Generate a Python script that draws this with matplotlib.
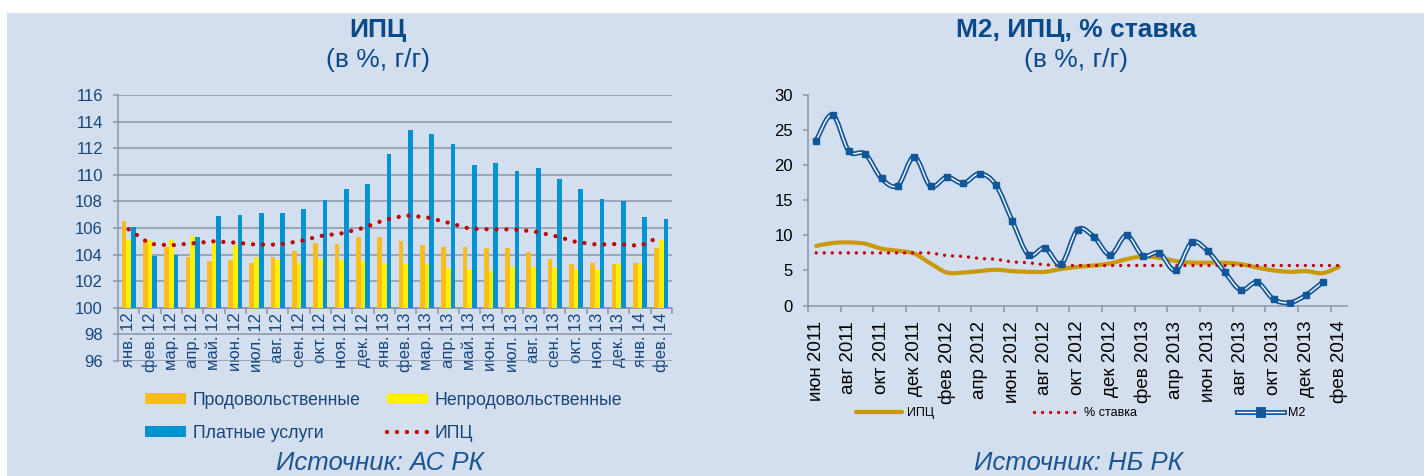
import numpy as np
import matplotlib
matplotlib.use("Agg")
import matplotlib.pyplot as plt
from matplotlib.path import Path
from matplotlib.patches import PathPatch, Rectangle, Patch
from matplotlib.lines import Line2D
import matplotlib.patheffects as pe

plt.rcParams['font.family'] = ['Liberation Sans', 'DejaVu Sans']

# ---------------- data: left chart ----------------
left_cats = ['янв. 12', 'фев. 12', 'мар. 12', 'апр. 12', 'май. 12', 'июн. 12', 'июл. 12',
             'авг. 12', 'сен. 12', 'окт. 12', 'ноя. 12', 'дек. 12', 'янв. 13', 'фев. 13',
             'мар. 13', 'апр. 13', 'май. 13', 'июн. 13', 'июл. 13', 'авг. 13', 'сен. 13',
             'окт. 13', 'ноя. 13', 'дек. 13', 'янв. 14', 'фев. 14']
food = [106.5, 105.0, 104.6, 103.8, 103.5, 103.6, 103.4, 103.8, 104.3, 104.9, 104.8, 105.3, 105.3,
        105.0, 104.7, 104.6, 104.6, 104.5, 104.5, 104.2, 103.7, 103.3, 103.4, 103.3, 103.4, 104.5]
nonfood = [105.1, 105.1, 105.1, 105.4, 105.0, 104.7, 103.8, 103.6, 103.4, 103.7, 103.6, 103.5, 103.4,
           103.3, 103.3, 103.0, 102.9, 102.8, 103.1, 103.1, 103.1, 102.9, 102.9, 103.3, 103.4, 105.1]
services = [106.1, 103.9, 104.0, 105.3, 106.9, 107.0, 107.1, 107.1, 107.4, 108.1, 108.9, 109.3, 111.6,
            113.4, 113.1, 112.3, 110.7, 110.9, 110.3, 110.5, 109.7, 108.9, 108.2, 108.0, 106.8, 106.7]
cpi_left = [105.9, 104.8, 104.7, 104.85, 105.0, 104.9, 104.75, 104.75, 105.0, 105.4, 105.6, 106.0, 106.6,
            106.95, 106.8, 106.4, 105.95, 105.9, 105.9, 105.75, 105.4, 104.95, 104.75, 104.8, 104.65, 105.4]
left_yticks = [96, 98, 100, 102, 104, 106, 108, 110, 112, 114, 116]

# ---------------- data: right chart ----------------
right_labels = ['июн 2011', 'авг 2011', 'окт 2011', 'дек 2011', 'фев 2012', 'апр 2012', 'июн 2012',
                'авг 2012', 'окт 2012', 'дек 2012', 'фев 2013', 'апр 2013', 'июн 2013', 'авг 2013',
                'окт 2013', 'дек 2013', 'фев 2014']
n_months = 33  # июн 2011 .. фев 2014
cpi_right = [8.5, 8.9, 9.0, 8.8, 8.1, 7.8, 7.4, 6.0, 4.7, 4.7, 4.9, 5.1, 4.9, 4.8, 4.8, 5.2, 5.5,
             5.7, 6.0, 6.6, 7.0, 6.8, 6.35, 6.1, 6.1, 6.1, 5.9, 5.4, 5.0, 4.8, 4.9, 4.6, 5.5]
rate = [7.5, 7.5, 7.5, 7.5, 7.5, 7.5, 7.5, 7.5, 7.1, 7.0, 6.7, 6.6, 6.2, 6.1, 5.8, 5.7, 5.7,
        5.7, 5.7, 5.7, 5.7, 5.7, 5.7, 5.7, 5.7, 5.7, 5.7, 5.7, 5.7, 5.7, 5.7, 5.7, 5.7]
m2 = [23.5, 27.2, 22.0, 21.6, 18.1, 17.1, 21.2, 17.0, 18.3, 17.4, 18.8, 17.2, 12.1, 7.2, 8.2, 5.9,
      10.8, 9.8, 7.2, 10.0, 7.1, 7.5, 5.0, 9.0, 7.7, 4.8, 2.2, 3.3, 0.9, 0.4, 1.5, 3.3]
right_yticks = [0, 5, 10, 15, 20, 25, 30]

# ---------------- styles ----------------
BG = '#D3DEEE'
GRID = '#8C96A8'
DARK = '#17467C'
TITLE_C = '#0B4A8A'
SRC_C = '#1B5594'
C_FOOD = '#F7BC1E'
C_NONFOOD = '#FFF000'
C_SERV = '#0093D4'
C_RED = '#C00000'
C_GOLD = '#C99A06'
C_M2 = '#12569A'

W, H = 1424, 476
fig = plt.figure(figsize=(W / 100, H / 100), dpi=100)
fig.patch.set_facecolor('white')
fig.add_artist(Rectangle((7 / W, 0), 1 - 7 / W, 1 - 13 / H, transform=fig.transFigure,
                         facecolor=BG, edgecolor='none', zorder=-10))


def smooth_path(xs, ys):
    pts = list(zip(xs, ys))
    n = len(pts)
    verts = [pts[0]]
    codes = [Path.MOVETO]
    for i in range(n - 1):
        p0 = pts[i - 1] if i > 0 else pts[i]
        p1 = pts[i]
        p2 = pts[i + 1]
        p3 = pts[i + 2] if i + 2 < n else pts[i + 1]
        c1 = (p1[0] + (p2[0] - p0[0]) / 6, p1[1] + (p2[1] - p0[1]) / 6)
        c2 = (p2[0] - (p3[0] - p1[0]) / 6, p2[1] - (p3[1] - p1[1]) / 6)
        verts += [c1, c2, p2]
        codes += [Path.CURVE4] * 3
    return Path(verts, codes)


# ================= LEFT CHART =================
ax = fig.add_axes([118 / W, 1 - 361 / H, (672 - 118) / W, (361 - 95) / H])
ax.set_facecolor('none')
ax.spines['bottom'].set_position(('data', 100))
x = np.arange(len(left_cats))
bw = 0.22
ax.bar(x - bw, np.array(food) - 100, bw, bottom=100, color=C_FOOD, zorder=3, label='Продовольственные')
ax.bar(x, np.array(nonfood) - 100, bw, bottom=100, color=C_NONFOOD, zorder=3, label='Непродовольственные')
ax.bar(x + bw, np.array(services) - 100, bw, bottom=100, color=C_SERV, zorder=3, label='Платные услуги')
ax.plot(x, cpi_left, color=C_RED, lw=3.1, linestyle=(0, (0.01, 2.3)), dash_capstyle='round',
        zorder=4, label='ИПЦ')

ax.set_xlim(-0.5, len(left_cats) - 0.5)
ax.set_ylim(96, 116)
ax.set_yticks(left_yticks)
ax.set_yticklabels([str(v) for v in left_yticks])
ax.set_xticks(x)
ax.set_xticklabels(left_cats)
ax.set_xticks(np.arange(-0.5, len(left_cats), 1), minor=True)
for lab in ax.get_xticklabels():
    lab.set_rotation(90)
    lab.set_va('top')
    lab.set_ha('center')
for s in ['top', 'right']:
    ax.spines[s].set_visible(False)
for s in ['left', 'bottom']:
    ax.spines[s].set_color(GRID)
    ax.spines[s].set_linewidth(1.1)
ax.yaxis.grid(True, color=GRID, lw=1.1, zorder=0)
ax.set_axisbelow(True)
ax.tick_params(axis='x', which='major', length=0, pad=3.5, labelsize=12, labelcolor=DARK,
               labelrotation=90)
ax.tick_params(axis='x', which='minor', length=4, width=1.1, color=GRID, direction='out')
ax.tick_params(axis='y', length=3.8, width=1.1, color=GRID, pad=7, labelsize=12, labelcolor=DARK)

# left legend
h_food = Patch(facecolor=C_FOOD, edgecolor='none')
h_non = Patch(facecolor=C_NONFOOD, edgecolor='none')
h_serv = Patch(facecolor=C_SERV, edgecolor='none')
h_cpi = Line2D([], [], color=C_RED, lw=3.1, linestyle=(0, (0.01, 2.3)), dash_capstyle='round')
leg = fig.legend([h_food, h_serv, h_non, h_cpi],
                 ['Продовольственные', 'Платные услуги', 'Непродовольственные', 'ИПЦ'],
                 ncol=2, loc='upper left', bbox_to_anchor=(145 / W, 1 - 392 / H), frameon=False,
                 fontsize=12.7, handlelength=2.3, handleheight=0.55, handletextpad=0.4,
                 columnspacing=1.5, labelspacing=0.9, borderpad=0, borderaxespad=0)
for t in leg.get_texts():
    t.set_color(DARK)

fig.text(378 / W, 1 - 30 / H, 'ИПЦ', ha='center', va='center', fontsize=19, fontweight='bold',
         color=TITLE_C)
fig.text(378 / W, 1 - 60 / H, '(в %, г/г)', ha='center', va='center', fontsize=19, color=TITLE_C)
fig.text(380 / W, 0.5 / H, 'Источник: АС РК', ha='center', va='bottom', fontsize=18.5,
         style='italic', color=SRC_C)

# ================= RIGHT CHART =================
ax2 = fig.add_axes([808 / W, 1 - 305.5 / H, (1347 - 808) / W, (305.5 - 95) / H])
ax2.set_facecolor('none')
xm = np.arange(n_months)
xm2 = np.arange(len(m2))

gold_patch = PathPatch(smooth_path(xm, cpi_right), fill=False, edgecolor=C_GOLD, lw=3.0,
                       capstyle='round', joinstyle='round', zorder=3)
ax2.add_patch(gold_patch)
ax2.plot(xm, rate, color=C_RED, lw=2.4, linestyle=(0, (0.01, 2.4)), dash_capstyle='round', zorder=4)
m2_path = smooth_path(xm2, m2)
ax2.add_patch(PathPatch(m2_path, fill=False, edgecolor=C_M2, lw=3.5, capstyle='round',
                        joinstyle='round', zorder=5))
ax2.add_patch(PathPatch(m2_path, fill=False, edgecolor='white', lw=1.0, capstyle='round',
                        joinstyle='round', zorder=6))
ax2.plot(xm2, m2, ls='none', marker='s', ms=4.2, color=C_M2, zorder=7)

ax2.set_xlim(-0.5, n_months - 0.5)
ax2.set_ylim(0, 30)
ax2.set_yticks(right_yticks)
ax2.set_yticklabels([str(v) for v in right_yticks])
ax2.set_xticks(np.arange(0, n_months, 2))
ax2.set_xticklabels(right_labels, rotation=90, va='top', ha='center')
ax2.set_xticks(np.arange(-0.5, n_months, 2), minor=True)
for s in ['top', 'right']:
    ax2.spines[s].set_visible(False)
for s in ['left', 'bottom']:
    ax2.spines[s].set_color(GRID)
    ax2.spines[s].set_linewidth(1.1)
ax2.tick_params(axis='x', which='major', length=0, pad=11, labelsize=13.5, labelcolor='black')
ax2.tick_params(axis='x', which='minor', length=4, width=1.1, color=GRID, direction='out')
ax2.tick_params(axis='y', length=3.8, width=1.1, color=GRID, pad=7, labelsize=12, labelcolor='black')

# right legend
r_cpi = Line2D([], [], color=C_GOLD, lw=3.0, solid_capstyle='round')
r_rate = Line2D([], [], color=C_RED, lw=2.4, linestyle=(0, (0.01, 2.4)), dash_capstyle='round')
r_m2 = Line2D([], [], color='white', lw=1.0, marker='s', ms=4.2, mfc=C_M2, mec=C_M2,
              path_effects=[pe.Stroke(linewidth=3.5, foreground=C_M2), pe.Normal()])
leg2 = fig.legend([r_cpi, r_rate, r_m2], ['ИПЦ', '% ставка', 'М2'], ncol=3, loc='center left',
                  bbox_to_anchor=(856 / W, 1 - 413 / H), frameon=False, fontsize=9,
                  handlelength=3.7, handletextpad=0.35, columnspacing=8.0,
                  borderpad=0, borderaxespad=0)
for t in leg2.get_texts():
    t.set_color('black')

fig.text(1076 / W, 1 - 30 / H, 'М2, ИПЦ, % ставка', ha='center', va='center', fontsize=19,
         fontweight='bold', color=TITLE_C)
fig.text(1076 / W, 1 - 60 / H, '(в %, г/г)', ha='center', va='center', fontsize=19, color=TITLE_C)
fig.text(1078 / W, 0.5 / H, 'Источник: НБ РК', ha='center', va='bottom', fontsize=18.5,
         style='italic', color=SRC_C)

fig.savefig('out.png', dpi=100, facecolor=fig.get_facecolor())
